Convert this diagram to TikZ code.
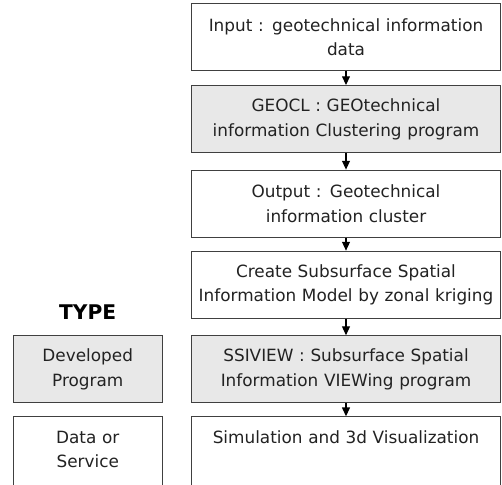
\documentclass[tikz,border=0pt]{standalone}
\usepackage{fontspec}
\setmainfont{DejaVu Sans}
\usepackage{xcolor}
\usetikzlibrary{positioning,arrows.meta}
\definecolor{edge}{HTML}{404040}
\definecolor{progbg}{HTML}{E8E8E8}
\definecolor{ink}{HTML}{222222}

\begin{document}
\begin{tikzpicture}[
    box/.style={draw=edge, semithick, fill=white, text=ink, text width=5.95cm, minimum height=1.34cm, align=center, font=\fontsize{9.6}{14}\selectfont},
    prog/.style={box, fill=progbg},
    openbox/.style={box, minimum height=0pt, inner ysep=8pt, text depth=1.2cm},
    arr/.style={-{Triangle[width=4.5pt,length=5pt]}, semithick, draw=black}
]
    \useasboundingbox (0,0) rectangle (10.04,-9.7);

    % Main flow
    \node[box, anchor=north] (input) at (6.92,-0.06) {Input : geotechnical information\\data};
    \node[prog, below=0.28cm of input] (geocl) {GEOCL : GEOtechnical\\information Clustering program};
    \node[box, below=0.33cm of geocl] (output) {Output : Geotechnical\\information cluster};
    \node[box, below=0.26cm of output] (model) {Create Subsurface Spatial\\Information Model by zonal kriging};
    \node[prog, below=0.33cm of model] (ssiview) {SSIVIEW : Subsurface Spatial\\Information VIEWing program};
    \node[openbox, below=0.26cm of ssiview] (visual) {Simulation and 3d Visualization};

    \draw[arr] (input) -- (geocl);
    \draw[arr] (geocl) -- (output);
    \draw[arr] (output) -- (model);
    \draw[arr] (model) -- (ssiview);
    \draw[arr] (ssiview) -- (visual);

    % Legend
    \node[prog, text width=2.75cm, left=0.56cm of ssiview] (devprog) {Developed\\Program};
    \node[openbox, text width=2.75cm, below=0.26cm of devprog] (datasvc) {Data or\\Service};
    \node[above=0.2cm of devprog, font=\fontsize{11.5}{13}\selectfont\bfseries] (type) {TYPE};
\end{tikzpicture}
\end{document}
